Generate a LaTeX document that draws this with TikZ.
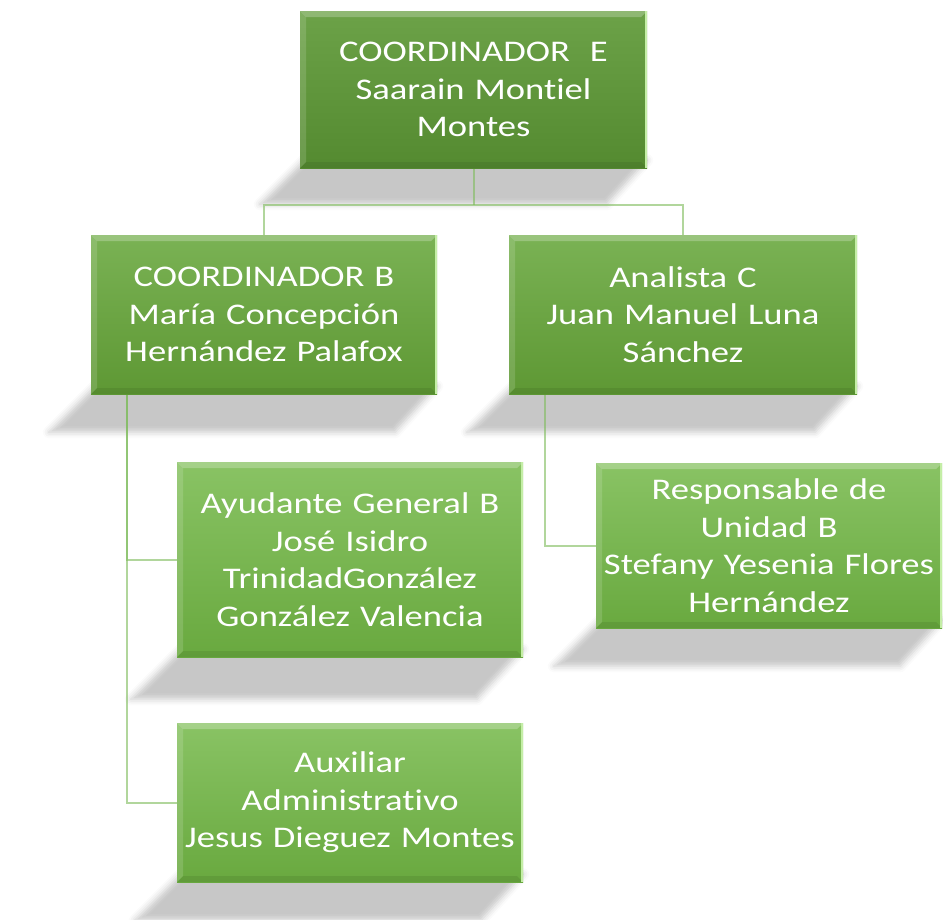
\documentclass[tikz,border=0pt]{standalone}
\usepackage{fontspec}
\setmainfont{Carlito}[FakeStretch=1.22, Ligatures=NoCommon]
\usetikzlibrary{calc,shadows.blur}
\definecolor{c0t}{HTML}{6CA248}
\definecolor{c0b}{HTML}{548A30}
\definecolor{c1t}{HTML}{7AB254}
\definecolor{c1b}{HTML}{5E9834}
\definecolor{c2t}{HTML}{89C364}
\definecolor{c2b}{HTML}{69A93F}
\definecolor{lineg}{HTML}{7DBB5A}
\definecolor{edgeg}{HTML}{C4EEA6}
\pgfdeclarelayer{bg}
\pgfdeclarelayer{mid}
\pgfsetlayers{bg,mid,main}
\tikzset{
  orgbox/.style={rectangle, inner sep=0pt, align=center, text=white,
    font=\fontsize{30}{37.5}\selectfont,
    path picture={
      \fill[white,opacity=.24] (path picture bounding box.north west) -- (path picture bounding box.north east)
        -- ([xshift=-6pt,yshift=-6pt]path picture bounding box.north east) -- ([xshift=6pt,yshift=-6pt]path picture bounding box.north west) -- cycle;
      \fill[white,opacity=.14] (path picture bounding box.north west) -- ([xshift=6pt,yshift=-6pt]path picture bounding box.north west)
        -- ([xshift=6pt,yshift=6pt]path picture bounding box.south west) -- (path picture bounding box.south west) -- cycle;
      \fill[black,opacity=.08] (path picture bounding box.south west) -- (path picture bounding box.south east)
        -- ([xshift=-6pt,yshift=6pt]path picture bounding box.south east) -- ([xshift=6pt,yshift=6pt]path picture bounding box.south west) -- cycle;
      \draw[edgeg,line width=2pt] ([xshift=-1pt]path picture bounding box.north east) -- ([xshift=-1pt]path picture bounding box.south east);
    }},
  lvlzero/.style={orgbox, top color=c0t, bottom color=c0b},
  lvlone/.style={orgbox, top color=c1t, bottom color=c1b},
  lvltwo/.style={orgbox, top color=c2t, bottom color=c2b},
  conn/.style={draw=lineg, line width=2pt, opacity=.6},
  shad/.style={blur shadow={shadow xshift=0pt, shadow yshift=0pt, shadow blur radius=6pt, shadow opacity=22}}
}
\newcommand\boxshadow[2][40]{%
  \path[shad] ($(#2.south west)+(4,-8)$) -- ($(#2.south east)+(0,-8)$) -- ($(#2.south east)+(-#1-2,#1-2)$) -- ($(#2.south west)+(-#1-2,#1-2)$) -- cycle;}
\begin{document}
\begin{tikzpicture}[x=1pt,y=-1pt]
\useasboundingbox (0,0) rectangle (943,919);

\node[lvlzero, minimum width=347pt, minimum height=157pt, text width=341pt] (top) at (473.5,89.5)
  {COORDINADOR\ \ E\\Saarain Montiel\\Montes};
\node[lvlone, minimum width=346pt, minimum height=159pt, text width=340pt] (cb) at (264,314.5)
  {COORDINADOR B\\María Concepción\\Hernández Palafox};
\node[lvlone, minimum width=348pt, minimum height=159pt, text width=342pt] (an) at (683,314.5)
  {Analista C\\Juan Manuel Luna\\Sánchez};
\node[lvltwo, minimum width=346pt, minimum height=195pt, text width=340pt] (ay) at (350,559.5)
  {Ayudante General B\\José Isidro\\TrinidadGonzález\\González Valencia};
\node[lvltwo, minimum width=346pt, minimum height=159pt, text width=340pt] (au) at (350,802.5)
  {Auxiliar\\Administrativo\\Jesus Dieguez Montes};
\node[lvltwo, minimum width=346pt, minimum height=165pt, text width=340pt] (re) at (769,545.5)
  {Responsable de\\Unidad B\\Stefany Yesenia Flores\\Hernández};

\begin{pgfonlayer}{bg}
  \boxshadow[38]{top}
  \boxshadow{cb}
  \boxshadow{an}
  \boxshadow[44]{ay}
  \boxshadow{au}
  \boxshadow{re}
\end{pgfonlayer}

\coordinate (hub) at (473.5,205);
\coordinate (bx) at ($(cb.south west)!0.104!(cb.south east)$);
\coordinate (ax) at ($(an.south west)!0.103!(an.south east)$);
\begin{pgfonlayer}{mid}
  \draw[conn] (top.south) -- (hub);
  \draw[conn] (cb.north) |- (hub) -| (an.north);
  \draw[conn] (bx) |- (ay.west);
  \draw[conn] (bx) |- (au.west);
  \draw[conn] (ax) |- (re.west);
\end{pgfonlayer}
\end{tikzpicture}
\end{document}
